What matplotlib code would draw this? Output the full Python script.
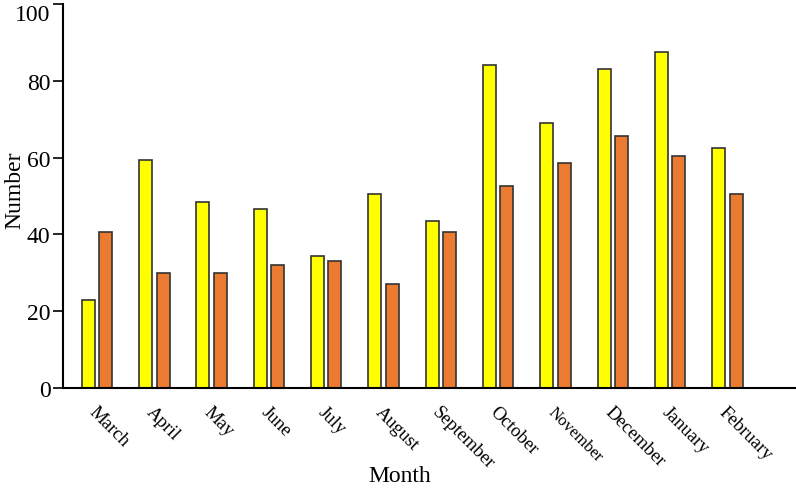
import numpy as np
import matplotlib
matplotlib.use("Agg")
import matplotlib.pyplot as plt

# Dados
months = ["March", "April", "May", "June", "July", "August", "September",
          "October", "November", "December", "January", "February"]
yellow_vals = [23, 59.5, 48.5, 46.5, 34.5, 50.5, 43.5, 84, 69, 83, 87.5, 62.5]
orange_vals = [40.5, 30, 30, 32, 33, 27, 40.5, 52.5, 58.5, 65.5, 60.5, 50.5]

plt.rcParams['font.family'] = ['Liberation Serif', 'DejaVu Serif']

fig = plt.figure(figsize=(7.96, 4.89), dpi=100)
ax = fig.add_axes([63 / 796, 1 - 389 / 489, (796 - 63) / 796, (389 - 5) / 489])

x = np.arange(len(months))
w = 0.227
gap = 0.305
ax.bar(x, yellow_vals, width=w, color='#FFFF00', edgecolor='#333333', linewidth=1.2)
ax.bar(x + gap, orange_vals, width=w, color='#EB7B30', edgecolor='#333333', linewidth=1.2)

ax.set_xlim(-0.44, 12.35)
ax.set_ylim(0, 100)
ax.set_yticks([0, 20, 40, 60, 80, 100])
ax.tick_params(axis='y', labelsize=17, length=7, width=1.2, direction='out', pad=2)
# le "100" est collé sous le haut de l'axe comme dans l'original
ax.get_yticklabels()[-1].set_va('top')

# étiquettes des mois décalées un peu vers la droite
ax.set_xticks(x + 0.16)
ax.set_xticklabels(months, rotation=-45, ha='left', rotation_mode='anchor', fontsize=13.5)
ax.tick_params(axis='x', length=0, pad=11)
ax.get_xticklabels()[8].set_fontsize(12)

for s in ['top', 'right']:
    ax.spines[s].set_visible(False)
ax.spines['left'].set_linewidth(1.5)
ax.spines['bottom'].set_linewidth(1.5)

ax.set_ylabel('Number', fontsize=17)
ax.yaxis.set_label_coords(-0.052, 0.518)
ax.set_xlabel('Month', fontsize=17)
ax.xaxis.set_label_coords(0.46, -0.2)

fig.savefig("out.png", dpi=100)
